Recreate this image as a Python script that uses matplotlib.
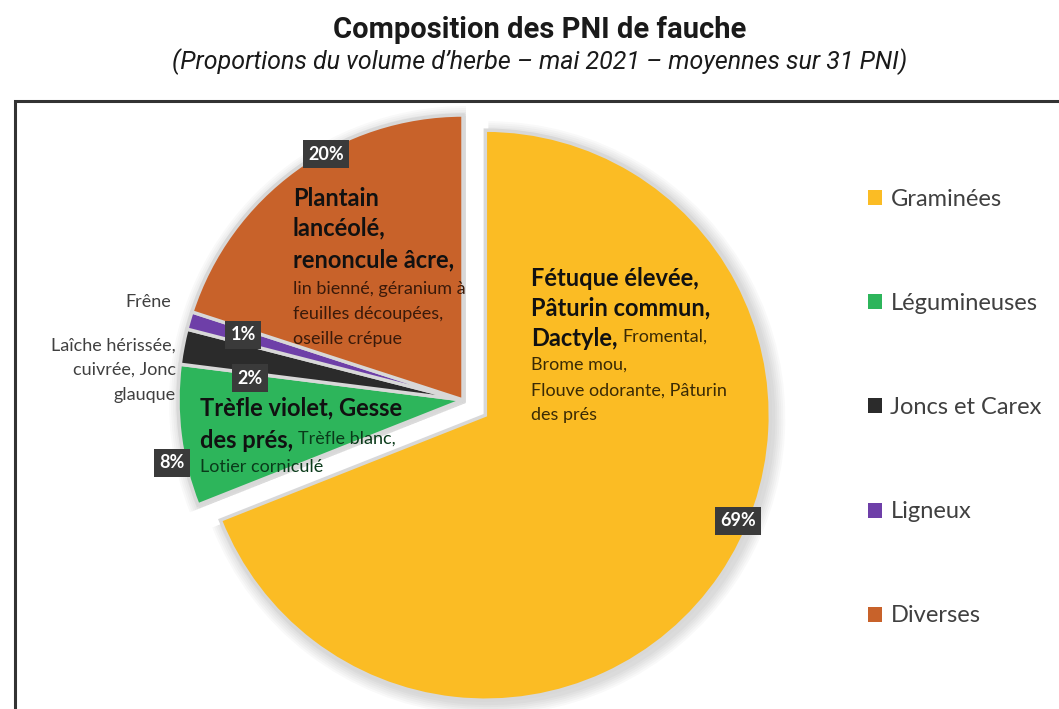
import matplotlib.pyplot as plt
from matplotlib.patches import Rectangle

# Data
categories = ["Graminées", "Légumineuses", "Joncs et Carex", "Ligneux", "Diverses"]
shares = [69, 8, 2, 1, 20]
pct_labels = ["69%", "8%", "2%", "1%", "20%"]
colors = ["#FBBC24", "#2DB55B", "#2B2B2B", "#6E3FA8", "#C8622A"]

W, H = 1059, 709
fig = plt.figure(figsize=(W / 100, H / 100), dpi=100)
ax = fig.add_axes([0, 0, 1, 1])
ax.set_xlim(0, W)
ax.set_ylim(0, H)
ax.set_aspect("equal")
ax.axis("off")

def Y(y):
    # pixel row (from top) -> data y
    return H - y

fig.text(540 / W, 1 - 30 / H, "Composition des PNI de fauche", ha="center", va="center",
         fontsize=21, fontweight="bold", family="Roboto", color="#1a1a1a")
fig.text(540 / W, 1 - 62 / H, "(Proportions du volume d\u2019herbe \u2013 mai 2021 \u2013 moyennes sur 31 PNI)",
         ha="center", va="center", fontsize=18, style="italic", family="Roboto", color="#1a1a1a")

# frame
ax.add_patch(Rectangle((15, -10), W, Y(101) + 10, fill=False, ec="#333333", lw=2.2, zorder=0))

center = (463, Y(400))
radius = 285
explode = [27, 0, 0, 0, 0]

# soft shadow
for k in range(6):
    ax.pie(shares, colors=["#000000"] * 5, startangle=90, counterclock=False,
           center=(center[0] + 3, center[1] - 3), radius=radius + 2 + 2 * k, explode=explode,
           wedgeprops=dict(alpha=0.025, lw=0), frame=True)

wedges, _ = ax.pie(shares, colors=colors, startangle=90, counterclock=False,
                   center=center, radius=radius, explode=explode,
                   wedgeprops=dict(edgecolor="#d8d8d8", linewidth=2.5), frame=True)
ax.set_xlim(0, W)
ax.set_ylim(0, H)
ax.axis("off")

font = ["Lato", "DejaVu Sans"]
box = dict(boxstyle="square,pad=0.28", fc="#3a3a3a", ec="none")
pct_pos = [(738, 521), (172, 463), (250, 378), (243, 335), (326, 154)]
for lab, (px, py) in zip(pct_labels, pct_pos):
    ax.text(px, Y(py), lab, ha="center", va="center", color="white", fontsize=13,
            fontweight="bold", family=font, bbox=box)

fig.canvas.draw()
renderer = fig.canvas.get_renderer()

BS, NS = 17, 13

def mixed(x, y, bold, normal=None, color="#111111", ncolor=None):
    t = ax.text(x, Y(y), bold, ha="left", va="center", fontsize=BS, fontweight="bold",
                family=font, color=color)
    if normal:
        bb = t.get_window_extent(renderer).transformed(ax.transData.inverted())
        ax.text(bb.x1 + 5, Y(y) + 1, normal, ha="left", va="center", fontsize=NS,
                family=font, color=ncolor or color)

def plain(x, y, s, color="#111111", ha="left", size=NS):
    ax.text(x, Y(y), s, ha=ha, va="center", fontsize=size, family=font, color=color)

# Diverses
mixed(293, 198, "Plantain")
mixed(293, 228, "lancéolé,")
mixed(293, 260, "renoncule âcre,")
plain(293, 289, "lin bienné, géranium à", "#3a1a0a")
plain(293, 314, "feuilles découpées,", "#3a1a0a")
plain(293, 339, "oseille crépue", "#3a1a0a")

# Graminées
mixed(531, 278, "Fétuque élevée,")
mixed(531, 308, "Pâturin commun,")
mixed(531, 338, "Dactyle,", "Fromental,", ncolor="#3a2a05")
plain(531, 365, "Brome mou,", "#3a2a05")
plain(531, 391, "Flouve odorante, Pâturin", "#3a2a05")
plain(531, 415, "des prés", "#3a2a05")

# Légumineuses
mixed(200, 408, "Trèfle violet, Gesse")
mixed(200, 440, "des prés,", "Trèfle blanc,", ncolor="#0a3a1a")
plain(200, 467, "Lotier corniculé", "#0a3a1a")

# outside labels
plain(171, 302, "Frêne", "#404040", ha="right")
plain(176, 346, "Laîche hérissée,", "#404040", ha="right")
plain(176, 370, "cuivrée, Jonc", "#404040", ha="right")
plain(176, 395, "glauque", "#404040", ha="right")

leg = ax.legend(wedges, categories, loc="upper left", bbox_to_anchor=(868, Y(189)),
                bbox_transform=ax.transData, frameon=False, prop=dict(family=font, size=17),
                labelspacing=3.52, handlelength=0.6, handleheight=0.6, handletextpad=0.35,
                borderaxespad=0, borderpad=0)
for t in leg.get_texts():
    t.set_color("#404040")
for h in leg.legend_handles:
    h.set_edgecolor("none")
    h.set_linewidth(0)

fig.savefig("out.png", dpi=100)
